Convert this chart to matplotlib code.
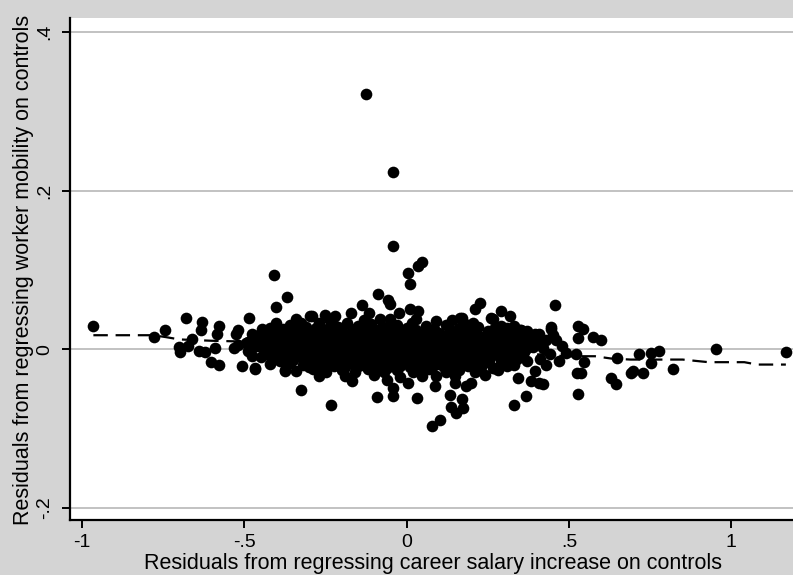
import matplotlib
matplotlib.use("Agg")
import matplotlib.pyplot as plt
import numpy as np

# ---------------- data ----------------
# residual pairs (salary-increase residual, mobility residual)
left_pts = [
    (-0.965, 0.0295), (-0.777, 0.016), (-0.743, 0.024), (-0.680, 0.040), (-0.702, 0.003),
    (-0.698, -0.003), (-0.675, 0.004), (-0.662, 0.0135), (-0.629, 0.035), (-0.634, 0.024),
    (-0.641, -0.002), (-0.621, -0.003), (-0.603, -0.016), (-0.578, -0.019), (-0.590, 0.002),
    (-0.578, 0.0295), (-0.583, 0.019), (-0.532, 0.002), (-0.527, 0.019), (-0.518, 0.024),
    (-0.506, -0.021), (-0.486, 0.040), (-0.496, 0.0085), (-0.475, -0.0085), (-0.467, -0.024),
    (-0.475, 0.019), (-0.447, 0.026), (-0.409, 0.094), (-0.370, 0.066), (-0.402, 0.053),
    (-0.404, 0.033), (-0.409, -0.0105), (-0.376, -0.0265), (-0.326, -0.051), (-0.340, 0.039),
    (-0.327, 0.034), (-0.297, 0.042), (-0.358, 0.019), (-0.466, -0.023), (-0.374, -0.026),
]
mid_upper_pts = [
    (-0.125, 0.322), (-0.041, 0.224), (-0.041, 0.131), (0.048, 0.110), (0.036, 0.105),
    (0.005, 0.096), (0.010, 0.082), (-0.087, 0.070), (-0.058, 0.063), (-0.051, 0.057),
    (-0.138, 0.056), (-0.171, 0.046), (-0.291, 0.042), (-0.251, 0.043), (-0.220, 0.042),
    (-0.117, 0.046), (-0.082, 0.039), (-0.025, 0.046), (0.010, 0.051), (0.036, 0.048),
    (0.225, 0.059), (0.210, 0.051), (0.291, 0.048), (0.317, 0.042), (0.266, 0.039),
    (0.169, 0.040), (0.179, 0.032), (0.332, 0.0295), (0.353, 0.025), (0.394, 0.019),
    (0.163, 0.040), (0.261, 0.040), (0.252, 0.023), (0.205, 0.034), (0.445, 0.028),
    (0.408, 0.019),
]
mid_lower_pts = [
    (-0.232, -0.070), (-0.169, -0.040), (-0.092, -0.060), (-0.041, -0.059), (-0.041, -0.0485),
    (-0.061, -0.038), (0.005, -0.042), (0.031, -0.061), (0.087, -0.0455), (0.077, -0.096),
    (0.102, -0.089), (0.133, -0.057), (0.138, -0.072), (0.153, -0.080), (0.169, -0.063),
    (0.174, -0.074), (0.148, -0.042), (0.184, -0.0465), (0.199, -0.042), (0.332, -0.070),
    (0.368, -0.059), (0.343, -0.036), (0.383, -0.040), (0.409, -0.042), (0.419, -0.043),
    (0.394, -0.0275), (0.046, -0.034), (0.267, -0.023),
]
right_pts = [
    (0.457, 0.056), (0.445, 0.026), (0.529, 0.030), (0.542, 0.026), (0.529, 0.015),
    (0.573, 0.016), (0.598, 0.012), (0.521, -0.0055), (0.547, -0.016), (0.525, -0.0295),
    (0.537, -0.0295), (0.529, -0.0565), (0.649, -0.0105), (0.629, -0.036), (0.644, -0.043),
    (0.690, -0.0295), (0.698, -0.0275), (0.729, -0.0295), (0.716, -0.0055), (0.754, -0.0175),
    (0.754, -0.004), (0.777, -0.002), (0.819, -0.024), (0.954, 0.000), (1.168, -0.003),
    (0.40, 0.010), (0.42, 0.002), (0.44, -0.006), (0.46, 0.012), (0.47, -0.015),
    (0.48, 0.004), (0.43, -0.020), (0.45, 0.018), (0.41, -0.012), (0.49, -0.004), (0.39, 0.003),
]
core_pts = [
    # ~ +0.035
    (-0.24, 0.038), (-0.13, 0.037), (-0.05, 0.039), (0.03, 0.038), (0.09, 0.036), (0.14, 0.037),
    # ~ +0.031
    (-0.36, 0.031), (-0.31, 0.028), (-0.27, 0.033), (-0.22, 0.030), (-0.185, 0.034), (-0.15, 0.029),
    (-0.11, 0.032), (-0.075, 0.028), (-0.03, 0.031), (0.015, 0.033), (0.06, 0.029), (0.12, 0.031),
    (0.22, 0.028), (0.29, 0.030),
    # ~ +0.026
    (-0.42, 0.027), (-0.38, 0.026), (-0.345, 0.028), (-0.31, 0.025), (-0.28, 0.027), (-0.245, 0.026),
    (-0.21, 0.028), (-0.16, 0.026), (-0.125, 0.027), (-0.095, 0.025), (-0.06, 0.028), (-0.035, 0.026),
    (0.00, 0.027), (0.03, 0.025), (0.085, 0.026), (0.16, 0.027), (0.195, 0.025), (0.27, 0.026),
    (0.31, 0.027), (0.35, 0.025),
    # ~ +0.022
    (-0.44, 0.021), (-0.40, 0.024), (-0.365, 0.020), (-0.33, 0.023), (-0.295, 0.021), (-0.26, 0.025),
    (-0.23, 0.020), (-0.20, 0.023), (-0.17, 0.021), (-0.14, 0.024), (-0.11, 0.020), (-0.08, 0.022),
    (-0.05, 0.025), (-0.02, 0.021), (0.01, 0.023), (0.04, 0.020), (0.07, 0.024), (0.10, 0.021),
    (0.14, 0.023), (0.18, 0.020), (0.21, 0.024), (0.25, 0.021), (0.29, 0.022), (0.33, 0.020),
    (0.37, 0.023),
    # ~ +0.018
    (-0.455, 0.018), (-0.415, 0.019), (-0.385, 0.017), (-0.355, 0.019), (-0.32, 0.018), (-0.29, 0.017),
    (-0.265, 0.019), (-0.235, 0.018), (-0.205, 0.017), (-0.175, 0.019), (-0.145, 0.018), (-0.115, 0.017),
    (-0.085, 0.019), (-0.055, 0.018), (-0.025, 0.017), (0.005, 0.019), (0.035, 0.018), (0.065, 0.017),
    (0.095, 0.019), (0.125, 0.018), (0.155, 0.017), (0.185, 0.019), (0.215, 0.018), (0.245, 0.017),
    (0.28, 0.019), (0.32, 0.018), (0.36, 0.017), (0.40, 0.018),
    # ~ +0.014
    (-0.47, 0.013), (-0.43, 0.015), (-0.40, 0.012), (-0.37, 0.016), (-0.34, 0.013), (-0.31, 0.015),
    (-0.28, 0.012), (-0.25, 0.016), (-0.22, 0.013), (-0.19, 0.015), (-0.16, 0.012), (-0.13, 0.016),
    (-0.10, 0.014), (-0.07, 0.012), (-0.04, 0.015), (-0.01, 0.013), (0.02, 0.016), (0.05, 0.012),
    (0.08, 0.015), (0.11, 0.013), (0.14, 0.016), (0.17, 0.012), (0.20, 0.014), (0.23, 0.016),
    (0.26, 0.012), (0.30, 0.014), (0.34, 0.011), (0.38, 0.015), (0.43, 0.012),
    # ~ +0.010
    (-0.49, 0.010), (-0.445, 0.009), (-0.41, 0.011), (-0.38, 0.010), (-0.35, 0.009), (-0.32, 0.011),
    (-0.29, 0.010), (-0.26, 0.009), (-0.23, 0.011), (-0.20, 0.010), (-0.17, 0.009), (-0.14, 0.011),
    (-0.11, 0.010), (-0.08, 0.009), (-0.05, 0.011), (-0.02, 0.010), (0.01, 0.009), (0.04, 0.011),
    (0.07, 0.010), (0.10, 0.009), (0.13, 0.011), (0.16, 0.010), (0.19, 0.009), (0.22, 0.011),
    (0.25, 0.010), (0.285, 0.009), (0.32, 0.011), (0.36, 0.010),
    # ~ +0.006
    (-0.52, 0.006), (-0.46, 0.005), (-0.42, 0.007), (-0.39, 0.004), (-0.36, 0.007), (-0.33, 0.005),
    (-0.30, 0.008), (-0.27, 0.004), (-0.24, 0.006), (-0.21, 0.008), (-0.18, 0.005), (-0.15, 0.007),
    (-0.12, 0.004), (-0.09, 0.006), (-0.06, 0.008), (-0.03, 0.005), (0.00, 0.007), (0.03, 0.004),
    (0.06, 0.006), (0.09, 0.008), (0.12, 0.005), (0.15, 0.007), (0.18, 0.004), (0.21, 0.006),
    (0.24, 0.008), (0.27, 0.005), (0.31, 0.007), (0.35, 0.004), (0.39, 0.006),
    # ~ +0.002
    (-0.475, 0.002), (-0.43, 0.001), (-0.40, 0.003), (-0.37, 0.002), (-0.34, 0.001), (-0.31, 0.003),
    (-0.28, 0.002), (-0.25, 0.001), (-0.22, 0.003), (-0.19, 0.002), (-0.16, 0.001), (-0.13, 0.003),
    (-0.10, 0.002), (-0.07, 0.001), (-0.04, 0.003), (-0.01, 0.002), (0.02, 0.001), (0.05, 0.003),
    (0.08, 0.002), (0.11, 0.001), (0.14, 0.003), (0.17, 0.002), (0.20, 0.001), (0.23, 0.003),
    (0.26, 0.002), (0.295, 0.001), (0.33, 0.003), (0.37, 0.002),
    # ~ -0.002
    (-0.49, -0.002), (-0.44, -0.001), (-0.41, -0.003), (-0.38, 0.000), (-0.35, -0.002), (-0.32, -0.004),
    (-0.29, -0.001), (-0.26, -0.003), (-0.23, 0.000), (-0.20, -0.002), (-0.17, -0.004), (-0.14, -0.001),
    (-0.11, -0.003), (-0.08, 0.000), (-0.05, -0.002), (-0.02, -0.004), (0.01, -0.001), (0.04, -0.003),
    (0.07, 0.000), (0.10, -0.002), (0.13, -0.004), (0.16, -0.001), (0.19, -0.003), (0.22, 0.000),
    (0.25, -0.002), (0.28, -0.004), (0.32, -0.001), (0.36, -0.003),
    # ~ -0.006
    (-0.43, -0.006), (-0.39, -0.005), (-0.355, -0.007), (-0.325, -0.006), (-0.295, -0.005), (-0.265, -0.007),
    (-0.235, -0.006), (-0.205, -0.005), (-0.175, -0.007), (-0.145, -0.006), (-0.115, -0.005), (-0.085, -0.007),
    (-0.055, -0.006), (-0.025, -0.005), (0.005, -0.007), (0.035, -0.006), (0.065, -0.005), (0.095, -0.007),
    (0.125, -0.006), (0.155, -0.005), (0.185, -0.007), (0.215, -0.006), (0.245, -0.005), (0.28, -0.007),
    (0.32, -0.006), (0.35, -0.005),
    # ~ -0.010
    (-0.45, -0.010), (-0.40, -0.009), (-0.37, -0.011), (-0.34, -0.008), (-0.31, -0.010), (-0.28, -0.012),
    (-0.25, -0.009), (-0.22, -0.011), (-0.19, -0.008), (-0.16, -0.010), (-0.13, -0.012), (-0.10, -0.009),
    (-0.07, -0.011), (-0.04, -0.008), (-0.01, -0.010), (0.02, -0.012), (0.05, -0.009), (0.08, -0.011),
    (0.11, -0.008), (0.14, -0.010), (0.17, -0.012), (0.20, -0.009), (0.23, -0.011), (0.26, -0.008),
    (0.30, -0.010), (0.34, -0.012),
    # ~ -0.014
    (-0.39, -0.014), (-0.35, -0.013), (-0.315, -0.015), (-0.285, -0.014), (-0.255, -0.013), (-0.225, -0.015),
    (-0.195, -0.014), (-0.165, -0.013), (-0.135, -0.015), (-0.105, -0.014), (-0.075, -0.013), (-0.045, -0.015),
    (-0.015, -0.014), (0.015, -0.013), (0.045, -0.015), (0.075, -0.014), (0.105, -0.013), (0.135, -0.015),
    (0.165, -0.014), (0.195, -0.013), (0.225, -0.015), (0.255, -0.014), (0.29, -0.013), (0.32, -0.015),
    (0.37, -0.014),
    # ~ -0.018
    (-0.42, -0.018), (-0.36, -0.017), (-0.32, -0.019), (-0.28, -0.016), (-0.24, -0.018), (-0.21, -0.020),
    (-0.18, -0.017), (-0.14, -0.019), (-0.11, -0.016), (-0.08, -0.018), (-0.04, -0.020), (-0.01, -0.017),
    (0.03, -0.019), (0.06, -0.016), (0.10, -0.018), (0.13, -0.020), (0.17, -0.017), (0.21, -0.019),
    (0.25, -0.016), (0.29, -0.018), (0.33, -0.020),
    # ~ -0.022
    (-0.30, -0.022), (-0.26, -0.023), (-0.225, -0.021), (-0.19, -0.022), (-0.155, -0.023), (-0.125, -0.021),
    (-0.09, -0.022), (-0.06, -0.023), (-0.02, -0.021), (0.01, -0.022), (0.045, -0.023), (0.08, -0.021),
    (0.115, -0.022), (0.15, -0.023), (0.19, -0.021), (0.23, -0.022), (0.27, -0.023), (0.31, -0.021),
    # ~ -0.027
    (-0.34, -0.027), (-0.29, -0.025), (-0.25, -0.028), (-0.20, -0.026), (-0.16, -0.029), (-0.12, -0.025),
    (-0.07, -0.028), (-0.03, -0.026), (0.02, -0.029), (0.07, -0.025), (0.12, -0.028), (0.16, -0.026),
    (0.21, -0.029), (0.28, -0.026),
    # ~ -0.033
    (-0.27, -0.033), (-0.19, -0.034), (-0.10, -0.032), (-0.02, -0.035), (0.09, -0.033), (0.15, -0.034),
    (0.24, -0.032),
]

# fitted (smoothed) line
fit_x = [-0.965, -0.78, -0.74, -0.70, -0.60, -0.50, -0.40, -0.30, -0.20, -0.10, 0.00, 0.10,
         0.20, 0.30, 0.40, 0.49, 0.58, 0.63, 0.69, 0.85, 0.93, 1.04, 1.08, 1.168]
fit_y = [0.018, 0.018, 0.0155, 0.0127, 0.011, 0.010, 0.0085, 0.007, 0.005, 0.003, 0.000, -0.001,
         -0.002, -0.004, -0.006, -0.0085, -0.0085, -0.0114, -0.0127, -0.0127, -0.016, -0.016,
         -0.019, -0.019]

x_ticks = [-1, -0.5, 0, 0.5, 1]
x_tick_labels = ["-1", "-.5", "0", ".5", "1"]
y_ticks = [-0.2, 0, 0.2, 0.4]
y_tick_labels = ["-.2", "0", ".2", ".4"]

x_label = "Residuals from regressing career salary increase on controls"
y_label = "Residuals from regressing worker mobility on controls"

# ---------------- figure ----------------
all_pts = left_pts + mid_upper_pts + mid_lower_pts + right_pts + core_pts
px = np.array([p[0] for p in all_pts])
py = np.array([p[1] for p in all_pts])

W, H = 793, 575
fig = plt.figure(figsize=(W / 100, H / 100), dpi=100, facecolor="#d4d4d4")
ax = fig.add_axes([70 / W, (H - 520) / H, (W - 70) / W, (520 - 18) / H])
ax.set_facecolor("white")

for yt in y_ticks:
    ax.axhline(yt, color="#b8b8b8", lw=1.2, zorder=1)

ax.plot(px, py, "o", color="black", markersize=8.4, markeredgewidth=0, zorder=3)
ax.plot(fit_x, fit_y, color="black", lw=1.6, dashes=(6.5, 3.5), zorder=4)

ax.set_xlim(-1.037, 1.19)
ax.set_ylim(-0.215, 0.418)

for s in ["top", "right"]:
    ax.spines[s].set_visible(False)
for s in ["left", "bottom"]:
    ax.spines[s].set_linewidth(1.6)
    ax.spines[s].set_color("black")

font = "Liberation Sans"
ax.set_xticks(x_ticks)
ax.set_xticklabels(x_tick_labels, fontsize=14, family=font)
ax.set_yticks(y_ticks)
ax.set_yticklabels(y_tick_labels, fontsize=14, family=font, rotation=90, va="center")
ax.tick_params(axis="both", direction="out", length=6, width=1.4, color="black")
ax.tick_params(axis="x", pad=4)
ax.tick_params(axis="y", pad=6)

ax.set_xlabel(x_label, fontsize=15.5, family=font)
ax.set_ylabel(y_label, fontsize=15.5, family=font)
# place the axis titles like the reference (pixel positions converted to axes coords)
ax.xaxis.set_label_coords((433.5 - 70) / (W - 70), (520 - 569) / (520 - 18))
ax.xaxis.label.set_va("baseline")
ax.yaxis.set_label_coords((29 - 70) / (W - 70), (520 - 270) / (520 - 18))
ax.yaxis.label.set_va("baseline")

fig.savefig("out.png", dpi=100, facecolor=fig.get_facecolor())
